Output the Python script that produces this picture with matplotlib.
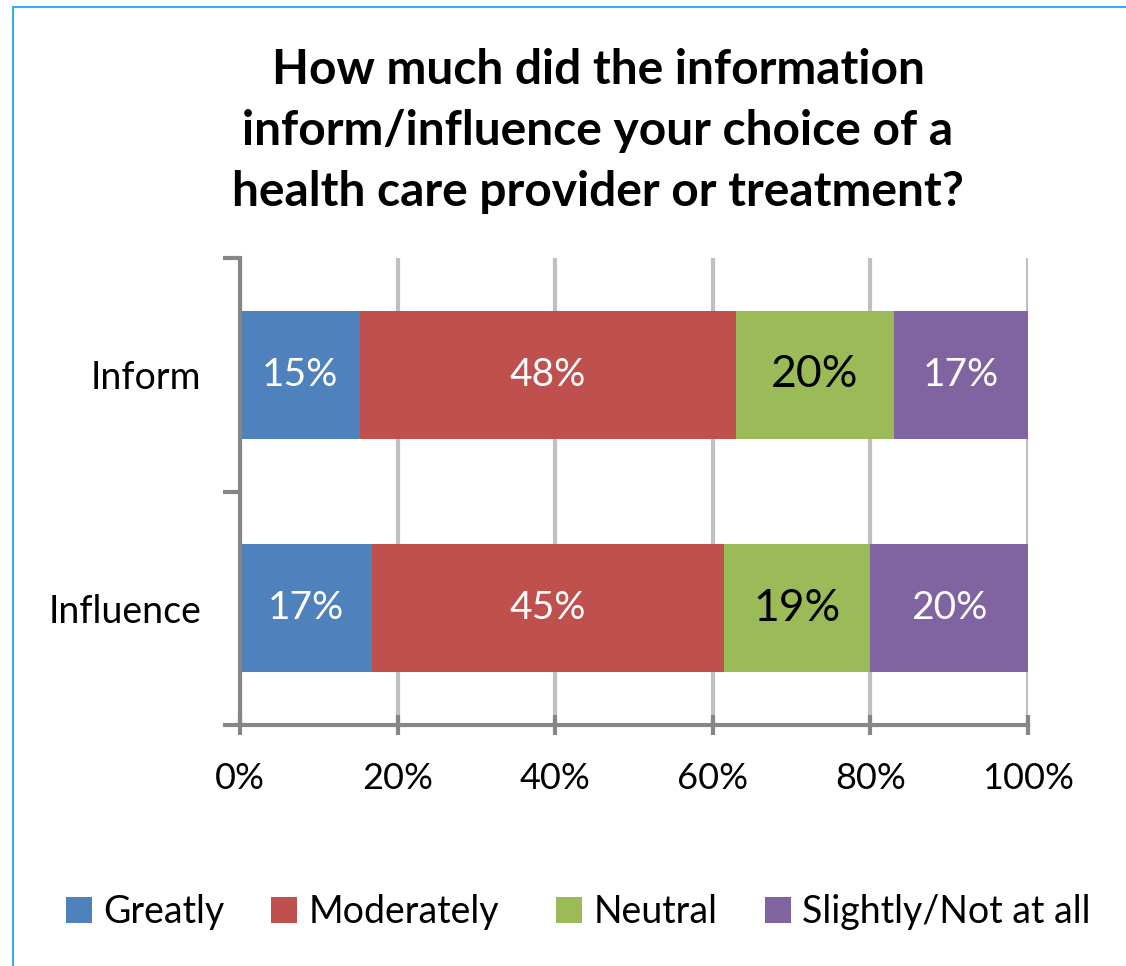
import matplotlib
matplotlib.use("Agg")
import matplotlib.pyplot as plt
from matplotlib.patches import Patch
from matplotlib.lines import Line2D

plt.rcParams['font.family'] = ['Lato', 'DejaVu Sans']

categories = ["Inform", "Influence"]
series_names = ["Greatly", "Moderately", "Neutral", "Slightly/Not at all"]
values = {
    "Greatly": [15.2, 16.8],
    "Moderately": [47.7, 44.6],
    "Neutral": [20.1, 18.6],
    "Slightly/Not at all": [17.0, 20.0],
}
colors = ["#4F81BD", "#C0504D", "#9BBB59", "#8064A2"]
label_colors = ["white", "white", "black", "white"]
label_sizes = [28, 28, 32, 28]
x_ticks = [0, 20, 40, 60, 80, 100]
x_ticklabels = ["0%", "20%", "40%", "60%", "80%", "100%"]
title = "How much did the information\ninform/influence your choice of a\nhealth care provider or treatment?"

W, H = 1126, 966
fig = plt.figure(figsize=(W / 100, H / 100), dpi=100)

# frame lines (top and left border)
fig.add_artist(Line2D([12.5 / W, 12.5 / W], [0, 1 - 7 / H], transform=fig.transFigure,
                      color="#3FA9F5", lw=1.5))
fig.add_artist(Line2D([12.5 / W, 1], [1 - 7 / H, 1 - 7 / H], transform=fig.transFigure,
                      color="#3FA9F5", lw=1.5))

ax = fig.add_axes([240 / W, 1 - 725 / H, (1028 - 240) / W, (725 - 258) / H])

ypos = list(range(len(categories)))
left = [0.0] * len(categories)
for i, name in enumerate(series_names):
    vals = values[name]
    ax.barh(ypos, vals, left=left, height=0.55, color=colors[i], zorder=3)
    for j, v in enumerate(vals):
        ax.text(left[j] + v / 2, ypos[j], f"{v:.0f}%", ha="center", va="center",
                color=label_colors[i], fontsize=label_sizes[i], zorder=4)
    left = [l + v for l, v in zip(left, vals)]

ax.set_xlim(0, 100)
ax.set_ylim(1.5, -0.5)
ax.set_xticks(x_ticks)
ax.set_xticklabels(x_ticklabels, fontsize=26)
ax.set_yticks([-0.5, 0.5, 1.5], minor=False)
ax.set_yticklabels([])
ax.set_yticks(ypos, minor=True)
ax.set_yticklabels(categories, minor=True, fontsize=27)
ax.tick_params(axis="y", which="minor", length=0, pad=28)
ax.tick_params(axis="y", which="major", length=12, width=3, color="#868686", direction="out")
ax.tick_params(axis="x", length=15, width=3, color="#868686", direction="inout", pad=19)

ax.grid(axis="x", color="#C0C0C0", lw=3, zorder=0)
for s in ["top", "right"]:
    ax.spines[s].set_visible(False)
for s in ["left", "bottom"]:
    ax.spines[s].set_color("#868686")
    ax.spines[s].set_linewidth(3)
    ax.spines[s].set_zorder(5)

fig.text(598 / W, 1 - 131 / H, title, ha="center", va="center", fontsize=34.5,
         fontweight="bold", linespacing=1.47)

# legend entries placed like the original (Excel-style spacing)
legend_x = [66, 271, 556, 765]
for name, c, lx in zip(series_names, colors, legend_x):
    fig.legend([Patch(facecolor=c, edgecolor="none")], [name], loc="center left",
               bbox_to_anchor=(lx / W, 1 - 912 / H), frameon=False, fontsize=27,
               handlelength=0.7, handleheight=0.7, handletextpad=0.3,
               borderpad=0, borderaxespad=0)

fig.savefig("out.png", dpi=100)
